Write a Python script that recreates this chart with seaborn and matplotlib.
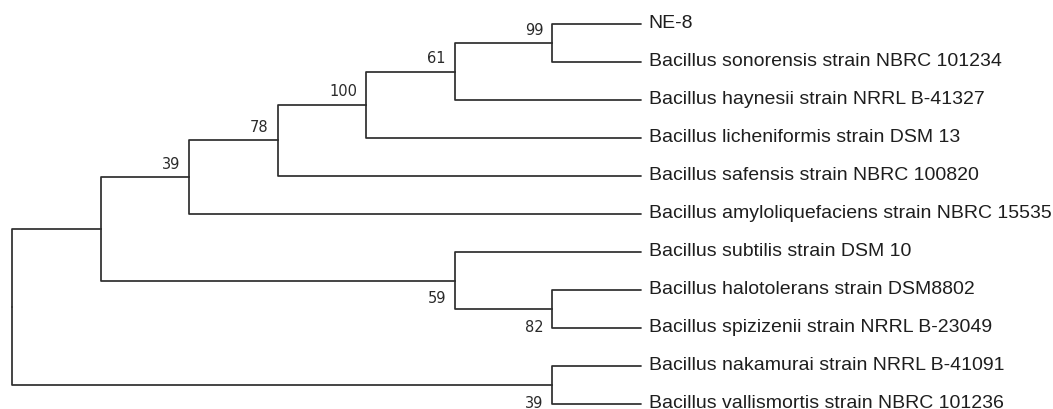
import matplotlib
matplotlib.use("Agg")
import matplotlib.pyplot as plt
import pandas as pd
import seaborn as sns

# Leaf taxa, top to bottom
taxa = [
    "NE-8",
    "Bacillus sonorensis strain NBRC 101234",
    "Bacillus haynesii strain NRRL B-41327",
    "Bacillus licheniformis strain DSM 13",
    "Bacillus safensis strain NBRC 100820",
    "Bacillus amyloliquefaciens strain NBRC 15535",
    "Bacillus subtilis strain DSM 10",
    "Bacillus halotolerans strain DSM8802",
    "Bacillus spizizenii strain NRRL B-23049",
    "Bacillus nakamurai strain NRRL B-41091",
    "Bacillus vallismortis strain NBRC 101236",
]
tip_depth = 7.1

# Internal nodes: depth in the cladogram and bootstrap support
node_ids = ["root", "n1", "n39a", "n78", "n100", "n61", "n99", "n59", "n82", "n39b"]
node_depth = [0.0, 1.0, 2.0, 3.0, 4.0, 5.0, 6.1, 5.0, 6.1, 6.1]
node_support = ["", "", "39", "78", "100", "61", "99", "59", "82", "39"]
# Children of each node (ints are leaf indices)
node_children = {
    "root": ["n1", "n39b"],
    "n1": ["n39a", "n59"],
    "n39a": ["n78", 5],
    "n78": ["n100", 4],
    "n100": ["n61", 3],
    "n61": ["n99", 2],
    "n99": [0, 1],
    "n59": [6, "n82"],
    "n82": [7, 8],
    "n39b": [9, 10],
}

depth = dict(zip(node_ids, node_depth))
support = dict(zip(node_ids, node_support))


def pos(key):
    """Return (x, y) of a leaf index or internal node."""
    if isinstance(key, int):
        return tip_depth, float(key)
    ys = [pos(c)[1] for c in node_children[key]]
    return depth[key], (ys[0] + ys[-1]) / 2.0


# Elbow connectors from each node to each of its children
rows = []
seg = 0
for key in node_ids:
    nx, ny = pos(key)
    for child in node_children[key]:
        cx, cy = pos(child)
        for px, py in [(nx, ny), (nx, cy), (cx, cy)]:
            rows.append({"seg": seg, "x": px, "y": py})
        seg += 1
edges = pd.DataFrame(rows)

sns.set_theme(style="white")
plt.rcParams["font.family"] = ["Liberation Sans", "DejaVu Sans"]

fig = plt.figure(figsize=(10.53, 4.10), dpi=100)
ax = fig.add_axes([0, 0, 1, 1])

sns.lineplot(data=edges, x="x", y="y", units="seg", estimator=None, sort=False,
             color="#2e2e2e", linewidth=1.25, ax=ax, legend=False)

# Leaf labels
for i, name in enumerate(taxa):
    ax.annotate(name, (tip_depth, i), xytext=(5.5, 0.8), textcoords="offset points",
                ha="left", va="center", fontsize=14, color="#1e1e1e")

# Bootstrap values: above the branch for upper children, below for lower ones
for parent in node_ids:
    kids = node_children[parent]
    for j, child in enumerate(kids):
        if isinstance(child, int) or not support[child]:
            continue
        cx, cy = pos(child)
        dy = 10 if j == 0 else -12.5
        ax.annotate(support[child], (cx, cy), xytext=(-6.5, dy),
                    textcoords="offset points", ha="right", va="center",
                    fontsize=10.5, color="#2a2a2a", family="DejaVu Sans")

ax.set_xlim(-12 / 88.6, (1053 - 12) / 88.6)
ax.set_ylim((410 - 25) / 38.0, -25 / 38.0)
ax.set_axis_off()

fig.savefig("out.png", dpi=100, facecolor="white")
